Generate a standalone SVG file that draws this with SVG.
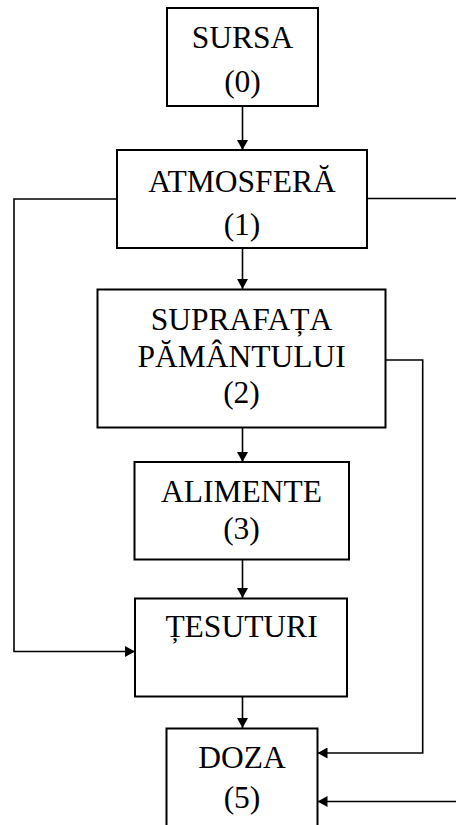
<svg xmlns="http://www.w3.org/2000/svg" width="456" height="825" viewBox="0 0 456 825">
  <style>
    .box { fill: #fff; stroke: #000; stroke-width: 2; }
    .lbl { font-family: "Liberation Serif", "Times New Roman", serif; font-size: 31.5px; fill: #000; text-anchor: middle; }
    .wire { fill: none; stroke: #000; stroke-width: 1.6; }
  </style>
  <defs>
    <marker id="arrow" markerUnits="userSpaceOnUse" markerWidth="10" markerHeight="11" viewBox="0 0 10 11" refX="10" refY="5.5" orient="auto">
      <path d="M0,0 L10,5.5 L0,11 Z" fill="#000"/>
    </marker>
  </defs>
  <rect width="456" height="825" fill="#fff"/>

  <g id="connectors">
    <line class="wire" x1="242.5" y1="106" x2="242.5" y2="150" marker-end="url(#arrow)"/>
    <line class="wire" x1="242.5" y1="248" x2="242.5" y2="289" marker-end="url(#arrow)"/>
    <line class="wire" x1="242.5" y1="428" x2="242.5" y2="462" marker-end="url(#arrow)"/>
    <line class="wire" x1="242.5" y1="560" x2="242.5" y2="598" marker-end="url(#arrow)"/>
    <line class="wire" x1="242.5" y1="697" x2="242.5" y2="728" marker-end="url(#arrow)"/>
    <!-- atmosphere straight to tissues -->
    <polyline class="wire" points="117,199 14,199 14,651.5 135,651.5" marker-end="url(#arrow)"/>
    <!-- atmosphere out to the right edge, back in to dose -->
    <line class="wire" x1="367" y1="198.5" x2="456" y2="198.5"/>
    <line class="wire" x1="456" y1="801.5" x2="317.5" y2="801.5" marker-end="url(#arrow)"/>
    <!-- ground surface to dose -->
    <polyline class="wire" points="385.5,360 422.7,360 422.7,753 317.5,753" marker-end="url(#arrow)"/>
  </g>

  <g id="sursa">
    <rect class="box" x="167" y="8" width="151" height="98"/>
    <text class="lbl" x="242.5" y="48">SURSA</text>
    <text class="lbl" x="242.5" y="92">(0)</text>
  </g>

  <g id="atmosfera">
    <rect class="box" x="117" y="150" width="250" height="98"/>
    <text class="lbl" x="242" y="192">ATMOSFERĂ</text>
    <text class="lbl" x="242" y="235">(1)</text>
  </g>

  <g id="suprafata">
    <rect class="box" x="97.5" y="289.5" width="288" height="138"/>
    <text class="lbl" x="241.5" y="329.5">SUPRAFAȚA</text>
    <text class="lbl" x="241.5" y="366.5">PĂMÂNTULUI</text>
    <text class="lbl" x="241.5" y="403">(2)</text>
  </g>

  <g id="alimente">
    <rect class="box" x="134.5" y="462" width="214.5" height="97.5"/>
    <text class="lbl" x="241.5" y="501.5">ALIMENTE</text>
    <text class="lbl" x="241.5" y="539">(3)</text>
  </g>

  <g id="tesuturi">
    <rect class="box" x="135" y="598.5" width="212" height="98"/>
    <text class="lbl" x="241.5" y="637">ȚESUTURI</text>
  </g>

  <g id="doza">
    <rect class="box" x="166.5" y="728.5" width="151" height="110"/>
    <text class="lbl" x="242" y="768">DOZA</text>
    <text class="lbl" x="242" y="808">(5)</text>
  </g>
</svg>
